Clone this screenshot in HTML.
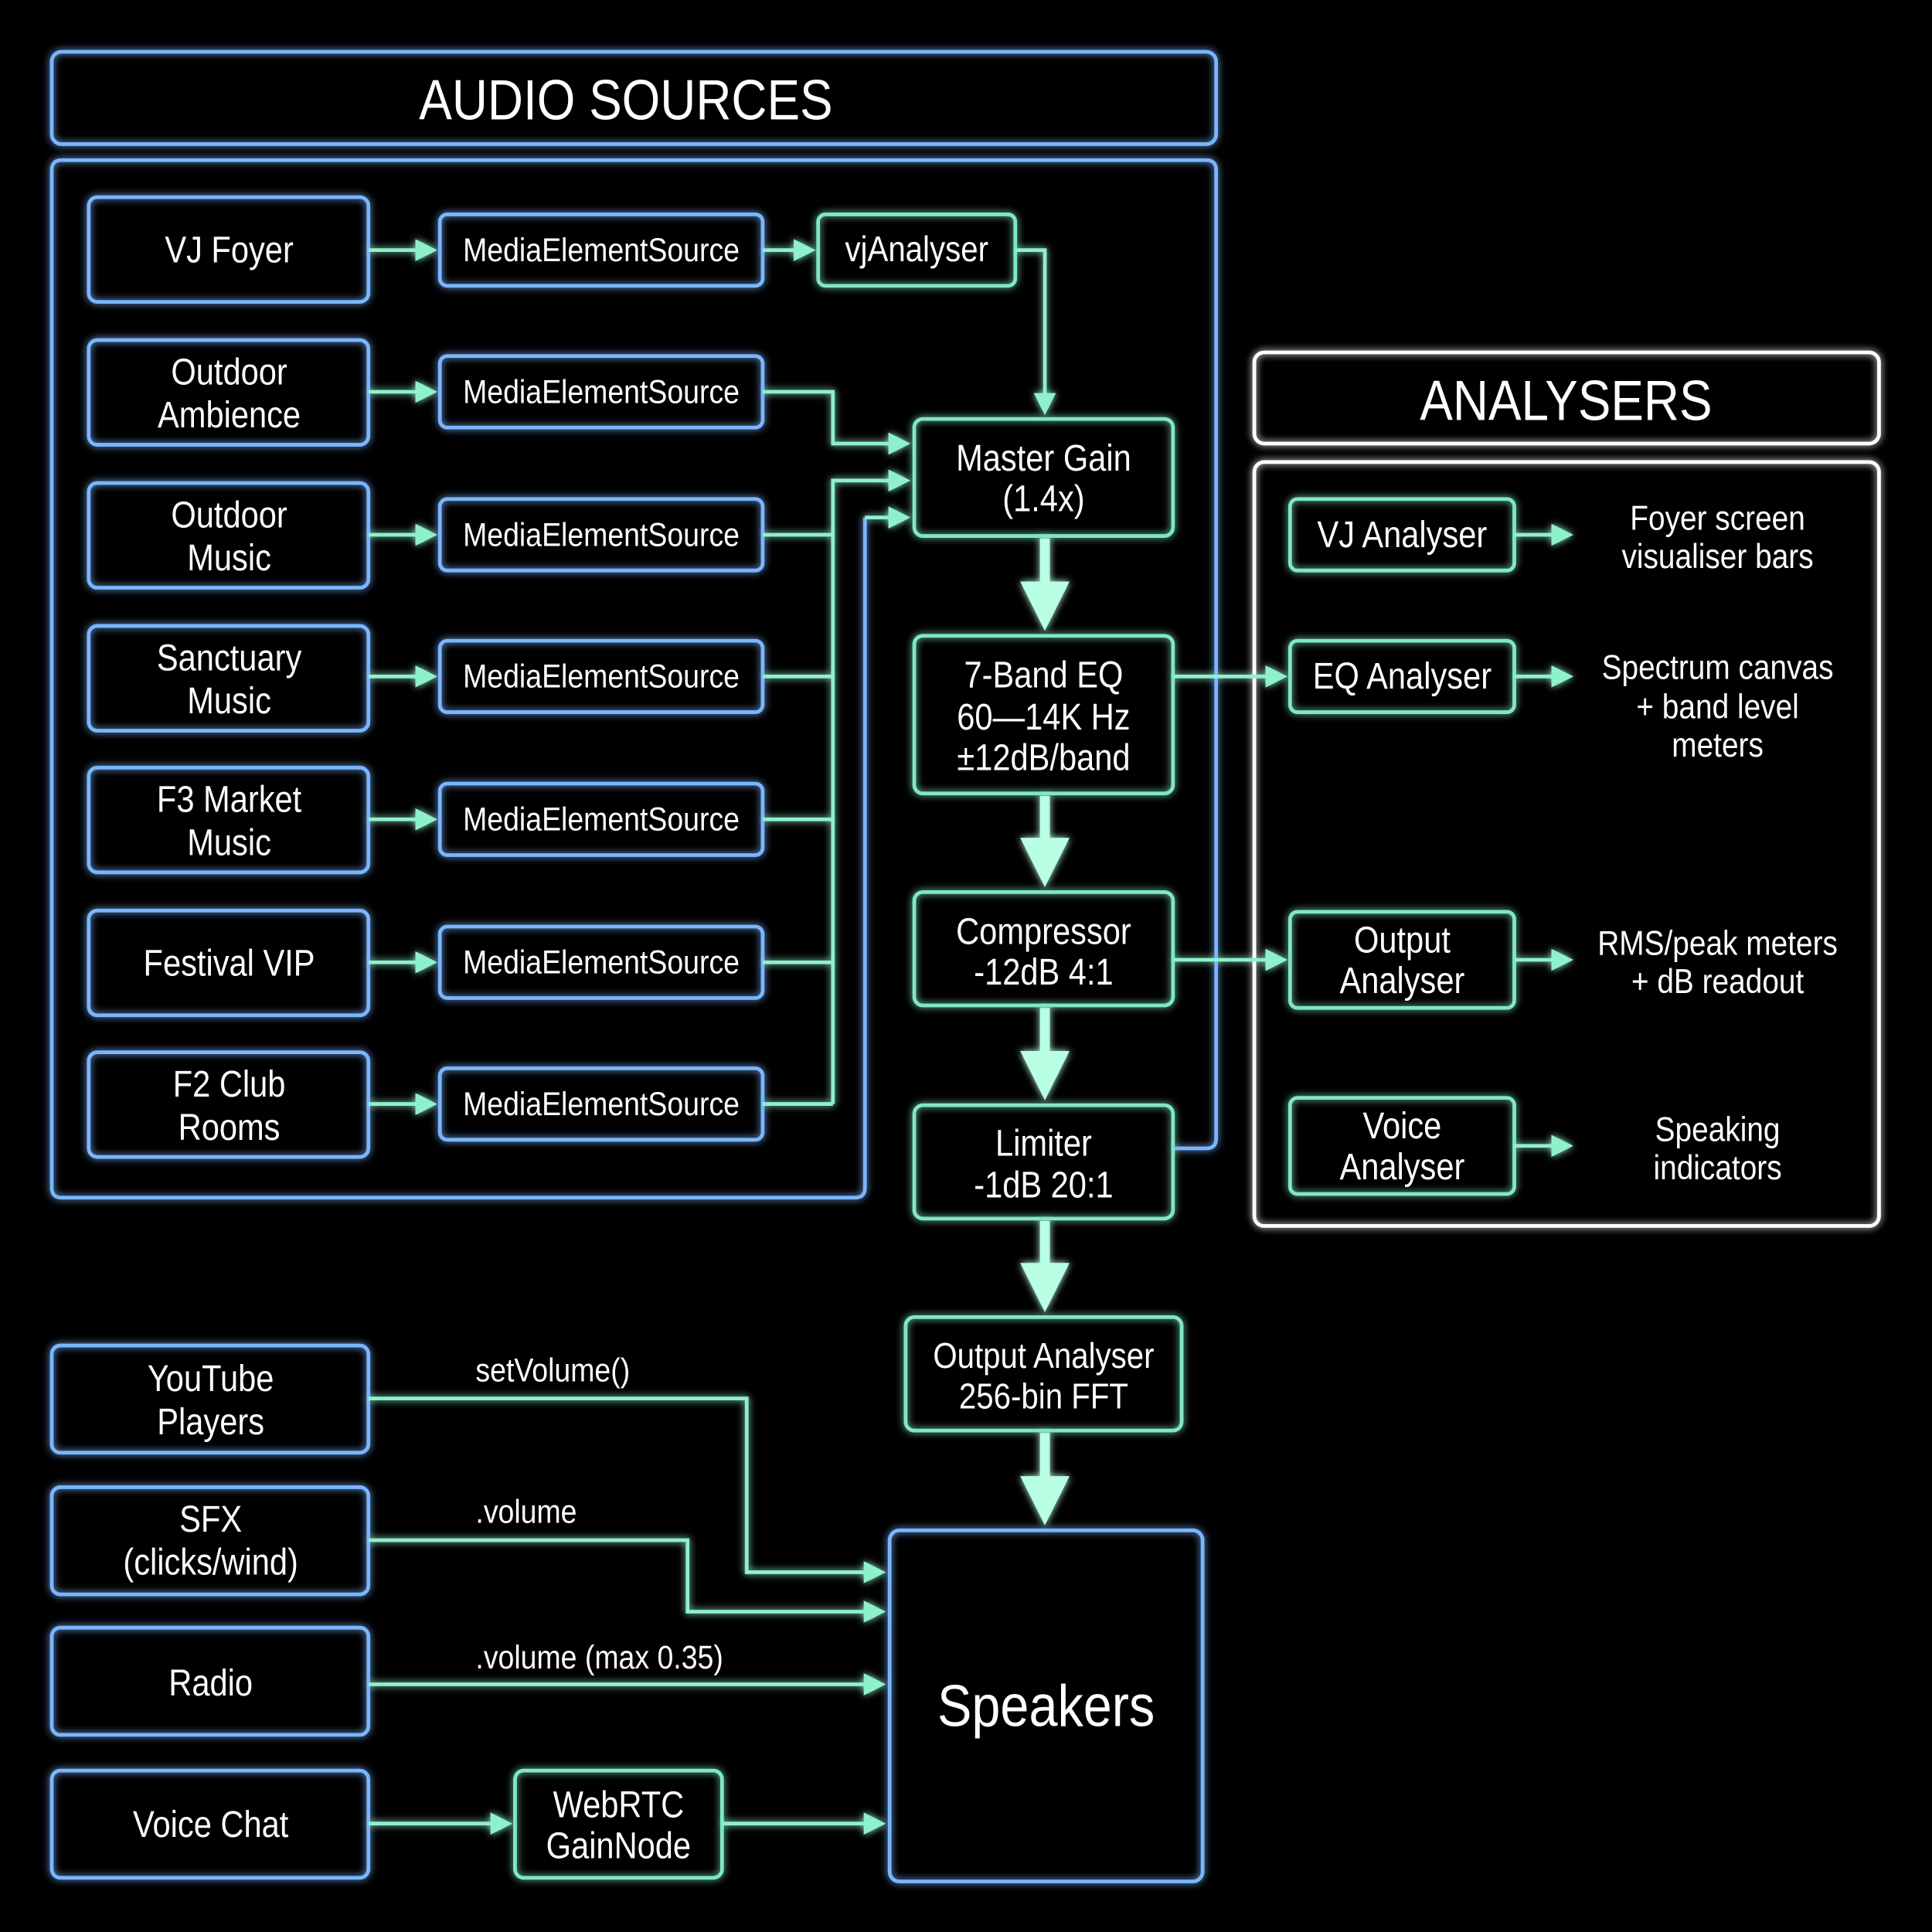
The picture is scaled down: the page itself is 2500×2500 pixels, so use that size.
<!DOCTYPE html>
<html><head><meta charset="utf-8">
<style>
html,body{margin:0;padding:0;background:#000;}
svg{display:block;}
text{font-family:"Liberation Sans","DejaVu Sans",sans-serif;fill:#fff;text-anchor:middle;transform-box:fill-box;transform-origin:center;transform:scaleX(.87);}
text.l{text-anchor:start;transform-origin:left center;}
</style></head><body>
<svg width="2500" height="2500" viewBox="0 0 1568 1568" xmlns="http://www.w3.org/2000/svg">
<defs>
<filter id="g" x="-20%" y="-20%" width="140%" height="140%">
<feGaussianBlur stdDeviation="3" result="b"/>
<feMerge><feMergeNode in="b"/><feMergeNode in="SourceGraphic"/></feMerge>
</filter>
<marker id="ah" markerWidth="6" markerHeight="6" refX="5" refY="3" orient="auto" markerUnits="strokeWidth">
<path d="M0,0 L6,3 L0,6 z" fill="#8ff0cc"/>
</marker>
<marker id="ahb" markerWidth="5" markerHeight="5" refX="4" refY="2.5" orient="auto" markerUnits="strokeWidth">
<path d="M0,0 L5,2.5 L0,5 z" fill="#b8ffe4"/>
</marker>
</defs>
<rect width="1568" height="1568" fill="#000"/>

<g filter="url(#g)" fill="none" stroke-width="3">
<g stroke="#7ab6ff">
<rect x="42" y="42" width="945" height="75" rx="8"/>
<path d="M50,130 H979 Q987,130 987,138 V924 Q987,932 979,932 H952"/>
<path d="M702,420 V964 Q702,972 694,972 H50 Q42,972 42,964 V138 Q42,130 50,130"/>
<rect x="72" y="160" width="227" height="85" rx="7"/>
<rect x="72" y="276" width="227" height="85" rx="7"/>
<rect x="72" y="392" width="227" height="85" rx="7"/>
<rect x="72" y="508" width="227" height="85" rx="7"/>
<rect x="72" y="623" width="227" height="85" rx="7"/>
<rect x="72" y="739" width="227" height="85" rx="7"/>
<rect x="72" y="854" width="227" height="85" rx="7"/>
<rect x="357" y="174" width="262" height="58" rx="6"/>
<rect x="357" y="289" width="262" height="58" rx="6"/>
<rect x="357" y="405" width="262" height="58" rx="6"/>
<rect x="357" y="520" width="262" height="58" rx="6"/>
<rect x="357" y="636" width="262" height="58" rx="6"/>
<rect x="357" y="752" width="262" height="58" rx="6"/>
<rect x="357" y="867" width="262" height="58" rx="6"/>
<rect x="42" y="1092" width="257" height="87" rx="7"/>
<rect x="42" y="1207" width="257" height="87" rx="7"/>
<rect x="42" y="1321" width="257" height="87" rx="7"/>
<rect x="42" y="1437" width="257" height="87" rx="7"/>
<rect x="722" y="1242" width="254" height="285" rx="8"/>
</g>
<g stroke="#7fe8c2">
<rect x="664" y="174" width="160" height="58" rx="6"/>
<rect x="742" y="340" width="210" height="95" rx="7"/>
<rect x="742" y="516" width="210" height="128" rx="7"/>
<rect x="742" y="724" width="210" height="92" rx="7"/>
<rect x="742" y="897" width="210" height="92" rx="7"/>
<rect x="735" y="1069" width="224" height="92" rx="7"/>
<rect x="1047" y="405" width="182" height="58" rx="6"/>
<rect x="1047" y="520" width="182" height="58" rx="6"/>
<rect x="1047" y="740" width="182" height="78" rx="6"/>
<rect x="1047" y="891" width="182" height="78" rx="6"/>
<rect x="418" y="1437" width="168" height="87" rx="7"/>
</g>
<g stroke="#ffffff">
<rect x="1018" y="286" width="507" height="74" rx="8"/>
<rect x="1018" y="375" width="507" height="620" rx="8"/>
</g>

<g stroke="#8ff0cc" stroke-width="3">
<line x1="299" y1="203" x2="352" y2="203" marker-end="url(#ah)"/>
<line x1="299" y1="318" x2="352" y2="318" marker-end="url(#ah)"/>
<line x1="299" y1="434" x2="352" y2="434" marker-end="url(#ah)"/>
<line x1="299" y1="549" x2="352" y2="549" marker-end="url(#ah)"/>
<line x1="299" y1="665" x2="352" y2="665" marker-end="url(#ah)"/>
<line x1="299" y1="781" x2="352" y2="781" marker-end="url(#ah)"/>
<line x1="299" y1="896" x2="352" y2="896" marker-end="url(#ah)"/>
<line x1="619" y1="203" x2="659" y2="203" marker-end="url(#ah)"/>
<path d="M824,203 H848 V334" marker-end="url(#ah)"/>
<path d="M619,318 H676 V360 H736" marker-end="url(#ah)"/>
<path d="M676,896 V390 H736" marker-end="url(#ah)"/>
<path d="M619,434 H676 M619,549 H676 M619,665 H676 M619,781 H676 M619,896 H676"/>
<path d="M702,420 H736" marker-end="url(#ah)"/>
<line x1="952" y1="549" x2="1042" y2="549" marker-end="url(#ah)"/>
<line x1="952" y1="779" x2="1042" y2="779" marker-end="url(#ah)"/>
<line x1="1229" y1="434" x2="1274" y2="434" marker-end="url(#ah)"/>
<line x1="1229" y1="549" x2="1274" y2="549" marker-end="url(#ah)"/>
<line x1="1229" y1="779" x2="1274" y2="779" marker-end="url(#ah)"/>
<line x1="1229" y1="930" x2="1274" y2="930" marker-end="url(#ah)"/>
<path d="M299,1135 H606 V1276 H716" marker-end="url(#ah)"/>
<path d="M299,1250 H558 V1308 H716" marker-end="url(#ah)"/>
<line x1="299" y1="1367" x2="716" y2="1367" marker-end="url(#ah)"/>
<line x1="299" y1="1480" x2="413" y2="1480" marker-end="url(#ah)"/>
<line x1="586" y1="1480" x2="716" y2="1480" marker-end="url(#ah)"/>
</g>
<g stroke="#b8ffe4" stroke-width="8">
<line x1="848" y1="437" x2="848" y2="504" marker-end="url(#ahb)"/>
<line x1="848" y1="646" x2="848" y2="712" marker-end="url(#ahb)"/>
<line x1="848" y1="818" x2="848" y2="885" marker-end="url(#ahb)"/>
<line x1="848" y1="991" x2="848" y2="1057" marker-end="url(#ahb)"/>
<line x1="848" y1="1163" x2="848" y2="1230" marker-end="url(#ahb)"/>
</g>
</g>

<g font-size="30">
<text x="508" y="97" font-size="46">AUDIO SOURCES</text>
<text x="1271" y="341" font-size="46">ANALYSERS</text>
<text x="186" y="213">VJ Foyer</text>
<text x="186" y="312">Outdoor</text><text x="186" y="347">Ambience</text>
<text x="186" y="428">Outdoor</text><text x="186" y="463">Music</text>
<text x="186" y="544">Sanctuary</text><text x="186" y="579">Music</text>
<text x="186" y="659">F3 Market</text><text x="186" y="694">Music</text>
<text x="186" y="792">Festival VIP</text>
<text x="186" y="890">F2 Club</text><text x="186" y="925">Rooms</text>
<g font-size="27">
<text x="488" y="212">MediaElementSource</text>
<text x="488" y="327">MediaElementSource</text>
<text x="488" y="443">MediaElementSource</text>
<text x="488" y="558">MediaElementSource</text>
<text x="488" y="674">MediaElementSource</text>
<text x="488" y="790">MediaElementSource</text>
<text x="488" y="905">MediaElementSource</text>
</g>
<text x="744" y="212" font-size="29">vjAnalyser</text>
<text x="847" y="382">Master Gain</text><text x="847" y="415">(1.4x)</text>
<text x="847" y="558">7-Band EQ</text><text x="847" y="592">60—14K Hz</text><text x="847" y="625">±12dB/band</text>
<text x="847" y="766">Compressor</text><text x="847" y="799">-12dB 4:1</text>
<text x="847" y="938">Limiter</text><text x="847" y="972">-1dB 20:1</text>
<text x="847" y="1110" font-size="29">Output Analyser</text><text x="847" y="1143" font-size="29">256-bin FFT</text>
<text x="849" y="1401" font-size="48">Speakers</text>
<text x="1138" y="444">VJ Analyser</text>
<text x="1138" y="559">EQ Analyser</text>
<text x="1138" y="773">Output</text><text x="1138" y="806">Analyser</text>
<text x="1138" y="924">Voice</text><text x="1138" y="957">Analyser</text>
<g font-size="28">
<text x="1394" y="430">Foyer screen</text><text x="1394" y="461">visualiser bars</text>
<text x="1394" y="551">Spectrum canvas</text><text x="1394" y="583">+ band level</text><text x="1394" y="614">meters</text>
<text x="1394" y="775">RMS/peak meters</text><text x="1394" y="806">+ dB readout</text>
<text x="1394" y="926">Speaking</text><text x="1394" y="957">indicators</text>
</g>
<text x="171" y="1129">YouTube</text><text x="171" y="1164">Players</text>
<text x="171" y="1243">SFX</text><text x="171" y="1278">(clicks/wind)</text>
<text x="171" y="1376">Radio</text>
<text x="171" y="1491">Voice Chat</text>
<text x="502" y="1475">WebRTC</text><text x="502" y="1508">GainNode</text>
<g font-size="27">
<text class="l" x="386" y="1121">setVolume()</text>
<text class="l" x="386" y="1236">.volume</text>
<text class="l" x="386" y="1354">.volume (max 0.35)</text>
</g>
</g>
</svg>
</body></html>
